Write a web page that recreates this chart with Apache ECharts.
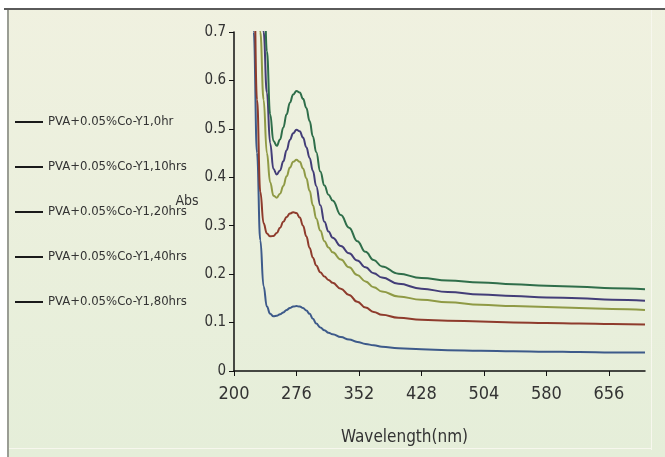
<!DOCTYPE html>
<html>
<head>
<meta charset="utf-8">
<script src="https://cdn.jsdelivr.net/npm/echarts@6/dist/echarts.min.js"></script>
<style>
html,body{margin:0;padding:0;background:#fff;}
#chart{width:665px;height:457px;}
</style>
</head>
<body>
<div id="chart"></div>
<script>
// Wavelength grid (nm)
const wavelengths = [220,224,228,232,236,240,244,248,252,256,260,264,268,272,276,280,284,288,292,296,300,305,310,315,320,330,340,350,360,370,380,400,428,460,500,540,580,620,660,700];
// Absorbance series (values above 0.7 are off-scale and clipped like the original)
const abs0hr  = [0.95,0.70,0.45,0.27,0.175,0.133,0.118,0.113,0.114,0.117,0.121,0.126,0.130,0.133,0.134,0.133,0.130,0.125,0.118,0.108,0.098,0.090,0.084,0.079,0.076,0.070,0.065,0.060,0.056,0.053,0.050,0.047,0.045,0.043,0.042,0.041,0.040,0.039,0.038,0.038];
const abs10hr = [1.05,0.83,0.56,0.37,0.305,0.284,0.278,0.279,0.285,0.296,0.308,0.318,0.325,0.328,0.326,0.317,0.300,0.278,0.254,0.234,0.218,0.204,0.195,0.188,0.182,0.170,0.157,0.143,0.131,0.122,0.116,0.110,0.106,0.104,0.102,0.100,0.099,0.098,0.097,0.096];
const abs20hr = [1.3,1.1,0.88,0.70,0.56,0.45,0.39,0.362,0.358,0.366,0.382,0.402,0.420,0.432,0.436,0.432,0.418,0.398,0.372,0.342,0.315,0.290,0.268,0.255,0.245,0.230,0.214,0.198,0.185,0.173,0.164,0.154,0.147,0.142,0.137,0.134,0.132,0.130,0.128,0.126];
const abs40hr = [1.4,1.25,1.05,0.86,0.70,0.575,0.47,0.417,0.406,0.414,0.433,0.456,0.477,0.491,0.498,0.495,0.482,0.462,0.440,0.413,0.382,0.342,0.308,0.288,0.275,0.258,0.243,0.228,0.214,0.202,0.193,0.180,0.170,0.163,0.158,0.155,0.152,0.150,0.147,0.145];
const abs80hr = [1.6,1.45,1.25,1.05,0.86,0.66,0.53,0.475,0.465,0.478,0.503,0.530,0.554,0.571,0.578,0.575,0.562,0.543,0.516,0.484,0.452,0.412,0.383,0.364,0.352,0.322,0.296,0.268,0.246,0.229,0.216,0.201,0.192,0.187,0.183,0.179,0.176,0.174,0.171,0.169];

const seriesNames = ['PVA+0.05%Co-Y1,0hr','PVA+0.05%Co-Y1,10hrs','PVA+0.05%Co-Y1,20hrs','PVA+0.05%Co-Y1,40hrs','PVA+0.05%Co-Y1,80hrs'];
const seriesColors = ['#3d5a8a','#8e3b2c','#8f9a45','#433d78','#2f6e4a'];
const seriesValues = [abs0hr, abs10hr, abs20hr, abs40hr, abs80hr];

// x tick labels: 200, 276, ..., 656 (interval 76); axis is offset so min is 0
const xStart = 200, xEnd = 700, xStep = 76;
const yTicks = [0,0.1,0.2,0.3,0.4,0.5,0.6,0.7];

const FONT = '"Liberation Sans Narrow","DejaVu Sans Condensed","Roboto Condensed",sans-serif';

const chart = echarts.init(document.getElementById('chart'), null, {renderer:'canvas'});

const series = seriesNames.map((name, i) => ({
  name: name,
  type: 'line',
  smooth: 0.45,
  smoothMonotone: 'x',
  showSymbol: false,
  clip: true,
  lineStyle: {color: seriesColors[i], width: 2},
  itemStyle: {color: seriesColors[i]},
  data: wavelengths.map((w, k) => [w - xStart, seriesValues[i][k]])
}));

chart.setOption({
  animation: false,
  backgroundColor: {
    type: 'linear', x: 0, y: 0, x2: 0, y2: 1,
    colorStops: [{offset: 0, color: '#f0f1e0'}, {offset: 1, color: '#e5eed9'}]
  },
  graphic: [
    {type: 'rect', shape: {x: 0, y: 0, width: 665, height: 8}, style: {fill: '#ffffff'}, z: 100},
    {type: 'rect', shape: {x: 0, y: 0, width: 7, height: 457}, style: {fill: '#ffffff'}, z: 100},
    {type: 'rect', shape: {x: 4, y: 8, width: 661, height: 2}, style: {fill: '#5a5a5a'}, z: 101},
    {type: 'rect', shape: {x: 7, y: 10, width: 2, height: 447}, style: {fill: '#9a9d94'}, z: 101},
    {type: 'rect', shape: {x: 651, y: 10, width: 1, height: 440}, style: {fill: '#f7f7ee'}, z: 101},
    {type: 'rect', shape: {x: 9, y: 448, width: 642, height: 1}, style: {fill: '#f7f7ee'}, z: 101}
  ],
  grid: {left: 234, right: 20, top: 32, bottom: 86, containLabel: false},
  legend: {
    orient: 'vertical',
    left: 15,
    top: 113,
    padding: 0,
    itemWidth: 28,
    itemHeight: 2,
    itemGap: 27,
    icon: 'rect',
    itemStyle: {color: '#1a1a1a'},
    textStyle: {fontFamily: FONT, fontSize: 13, color: '#333', lineHeight: 18},
    data: seriesNames
  },
  xAxis: {
    type: 'value',
    min: 0,
    max: xEnd - xStart,
    interval: xStep,
    name: 'Wavelength(nm)',
    nameLocation: 'middle',
    nameGap: 58,
    nameTextStyle: {fontFamily: FONT, fontSize: 17, color: '#333', padding: [0, 70, 0, 0]},
    axisLine: {show: true, onZero: false, lineStyle: {color: '#111', width: 1.5}},
    axisTick: {show: true, inside: false, length: 5, lineStyle: {color: '#111'}},
    axisLabel: {
      fontFamily: FONT, fontSize: 18, color: '#333', margin: 14,
      showMaxLabel: false,
      formatter: v => String(v + xStart)
    },
    splitLine: {show: false}
  },
  yAxis: {
    type: 'value',
    min: yTicks[0],
    max: yTicks[yTicks.length - 1],
    interval: 0.1,
    name: 'Abs',
    nameLocation: 'middle',
    nameRotate: 0,
    nameGap: 34,
    nameTextStyle: {fontFamily: FONT, fontSize: 14, color: '#333'},
    axisLine: {show: true, lineStyle: {color: '#111', width: 1.5}},
    axisTick: {show: true, inside: false, length: 5, lineStyle: {color: '#111'}},
    axisLabel: {fontFamily: FONT, fontSize: 15, color: '#333', margin: 8,
      formatter: v => String(Math.round(v * 10) / 10)},
    splitLine: {show: false}
  },
  series: series
});
</script>
</body>
</html>
